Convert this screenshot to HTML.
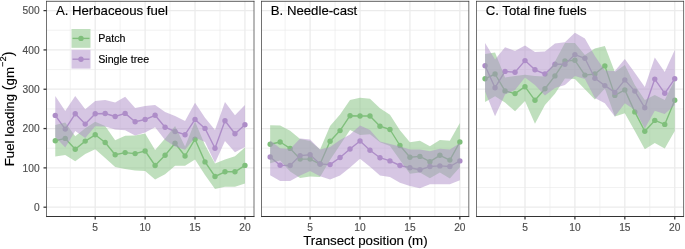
<!DOCTYPE html>
<html><head><meta charset="utf-8"><style>
html,body{margin:0;padding:0;background:#fff;}
body{width:685px;height:249px;overflow:hidden;}
svg{display:block;font-family:"Liberation Sans",sans-serif;filter:blur(0.35px);}
text{stroke-width:0.15px;}
</style></head><body>
<svg width="685" height="249" viewBox="0 0 685 249">
<rect width="685" height="249" fill="#fff"/>
<g>
<line x1="46.5" x2="254" y1="187.54" y2="187.54" stroke="#EBEBEB" stroke-width="0.63"/>
<line x1="46.5" x2="254" y1="148.22" y2="148.22" stroke="#EBEBEB" stroke-width="0.63"/>
<line x1="46.5" x2="254" y1="108.9" y2="108.9" stroke="#EBEBEB" stroke-width="0.63"/>
<line x1="46.5" x2="254" y1="69.58" y2="69.58" stroke="#EBEBEB" stroke-width="0.63"/>
<line x1="46.5" x2="254" y1="30.26" y2="30.26" stroke="#EBEBEB" stroke-width="0.63"/>
<line x1="70.24" x2="70.24" y1="1.3" y2="216.5" stroke="#EBEBEB" stroke-width="0.63"/>
<line x1="120.16" x2="120.16" y1="1.3" y2="216.5" stroke="#EBEBEB" stroke-width="0.63"/>
<line x1="170.07" x2="170.07" y1="1.3" y2="216.5" stroke="#EBEBEB" stroke-width="0.63"/>
<line x1="219.99" x2="219.99" y1="1.3" y2="216.5" stroke="#EBEBEB" stroke-width="0.63"/>
<line x1="46.5" x2="254" y1="207.2" y2="207.2" stroke="#EBEBEB" stroke-width="1.26"/>
<line x1="46.5" x2="254" y1="167.88" y2="167.88" stroke="#EBEBEB" stroke-width="1.26"/>
<line x1="46.5" x2="254" y1="128.56" y2="128.56" stroke="#EBEBEB" stroke-width="1.26"/>
<line x1="46.5" x2="254" y1="89.24" y2="89.24" stroke="#EBEBEB" stroke-width="1.26"/>
<line x1="46.5" x2="254" y1="49.92" y2="49.92" stroke="#EBEBEB" stroke-width="1.26"/>
<line x1="46.5" x2="254" y1="10.6" y2="10.6" stroke="#EBEBEB" stroke-width="1.26"/>
<line x1="95.2" x2="95.2" y1="1.3" y2="216.5" stroke="#EBEBEB" stroke-width="1.26"/>
<line x1="145.12" x2="145.12" y1="1.3" y2="216.5" stroke="#EBEBEB" stroke-width="1.26"/>
<line x1="195.03" x2="195.03" y1="1.3" y2="216.5" stroke="#EBEBEB" stroke-width="1.26"/>
<line x1="244.94" x2="244.94" y1="1.3" y2="216.5" stroke="#EBEBEB" stroke-width="1.26"/>
<path d="M55.27,140.8 L65.25,138.4 L75.23,149.2 L85.22,141.1 L95.2,134.8 L105.18,142.5 L115.17,154.8 L125.15,152.6 L135.13,153.6 L145.12,151 L155.1,165.5 L165.08,155.2 L175.06,143.3 L185.05,156 L195.03,139.2 L205.01,161.9 L215,176.5 L224.98,171.8 L234.96,171.8 L244.94,165.4" fill="none" stroke="#7FBF7B" stroke-width="1.4" stroke-linejoin="round"/><circle cx="55.27" cy="140.8" r="2.7" fill="#7FBF7B"/><circle cx="65.25" cy="138.4" r="2.7" fill="#7FBF7B"/><circle cx="75.23" cy="149.2" r="2.7" fill="#7FBF7B"/><circle cx="85.22" cy="141.1" r="2.7" fill="#7FBF7B"/><circle cx="95.2" cy="134.8" r="2.7" fill="#7FBF7B"/><circle cx="105.18" cy="142.5" r="2.7" fill="#7FBF7B"/><circle cx="115.17" cy="154.8" r="2.7" fill="#7FBF7B"/><circle cx="125.15" cy="152.6" r="2.7" fill="#7FBF7B"/><circle cx="135.13" cy="153.6" r="2.7" fill="#7FBF7B"/><circle cx="145.12" cy="151" r="2.7" fill="#7FBF7B"/><circle cx="155.1" cy="165.5" r="2.7" fill="#7FBF7B"/><circle cx="165.08" cy="155.2" r="2.7" fill="#7FBF7B"/><circle cx="175.06" cy="143.3" r="2.7" fill="#7FBF7B"/><circle cx="185.05" cy="156" r="2.7" fill="#7FBF7B"/><circle cx="195.03" cy="139.2" r="2.7" fill="#7FBF7B"/><circle cx="205.01" cy="161.9" r="2.7" fill="#7FBF7B"/><circle cx="215" cy="176.5" r="2.7" fill="#7FBF7B"/><circle cx="224.98" cy="171.8" r="2.7" fill="#7FBF7B"/><circle cx="234.96" cy="171.8" r="2.7" fill="#7FBF7B"/><circle cx="244.94" cy="165.4" r="2.7" fill="#7FBF7B"/>
<path d="M55.27,115.4 L65.25,129.1 L75.23,113.8 L85.22,124.1 L95.2,113.8 L105.18,113.5 L115.17,116.5 L125.15,113.4 L135.13,121.8 L145.12,119.5 L155.1,115.3 L165.08,127.2 L175.06,131.5 L185.05,134.7 L195.03,119.4 L205.01,128.4 L215,148.3 L224.98,120.8 L234.96,133.7 L244.94,124.7" fill="none" stroke="#AE8DC8" stroke-width="1.4" stroke-linejoin="round"/><circle cx="55.27" cy="115.4" r="2.7" fill="#AE8DC8"/><circle cx="65.25" cy="129.1" r="2.7" fill="#AE8DC8"/><circle cx="75.23" cy="113.8" r="2.7" fill="#AE8DC8"/><circle cx="85.22" cy="124.1" r="2.7" fill="#AE8DC8"/><circle cx="95.2" cy="113.8" r="2.7" fill="#AE8DC8"/><circle cx="105.18" cy="113.5" r="2.7" fill="#AE8DC8"/><circle cx="115.17" cy="116.5" r="2.7" fill="#AE8DC8"/><circle cx="125.15" cy="113.4" r="2.7" fill="#AE8DC8"/><circle cx="135.13" cy="121.8" r="2.7" fill="#AE8DC8"/><circle cx="145.12" cy="119.5" r="2.7" fill="#AE8DC8"/><circle cx="155.1" cy="115.3" r="2.7" fill="#AE8DC8"/><circle cx="165.08" cy="127.2" r="2.7" fill="#AE8DC8"/><circle cx="175.06" cy="131.5" r="2.7" fill="#AE8DC8"/><circle cx="185.05" cy="134.7" r="2.7" fill="#AE8DC8"/><circle cx="195.03" cy="119.4" r="2.7" fill="#AE8DC8"/><circle cx="205.01" cy="128.4" r="2.7" fill="#AE8DC8"/><circle cx="215" cy="148.3" r="2.7" fill="#AE8DC8"/><circle cx="224.98" cy="120.8" r="2.7" fill="#AE8DC8"/><circle cx="234.96" cy="133.7" r="2.7" fill="#AE8DC8"/><circle cx="244.94" cy="124.7" r="2.7" fill="#AE8DC8"/>
<path d="M55.27,125 L65.25,122.4 L75.23,136.2 L85.22,128.2 L95.2,121.7 L105.18,126 L115.17,140.3 L125.15,135.8 L135.13,135.4 L145.12,133.4 L155.1,150 L165.08,138.5 L175.06,126 L185.05,146.5 L195.03,121.6 L205.01,145 L215,163.5 L224.98,159.5 L234.96,156.2 L244.94,147.5 L244.94,183.5 L234.96,186.7 L224.98,186.7 L215,189.1 L205.01,175 L195.03,159.5 L185.05,165.8 L175.06,165.8 L165.08,174.2 L155.1,179.5 L145.12,171 L135.13,170.6 L125.15,169 L115.17,166.9 L105.18,158 L95.2,149.2 L85.22,154.1 L75.23,161.2 L65.25,154.9 L55.27,156.5 Z" fill="#7FBF7B" fill-opacity="0.5"/>
<path d="M55.27,96.1 L65.25,110.9 L75.23,96.1 L85.22,109.3 L95.2,100.9 L105.18,100 L115.17,102.5 L125.15,96.7 L135.13,108 L145.12,105.9 L155.1,104.9 L165.08,112.1 L175.06,116.1 L185.05,121 L195.03,102.8 L205.01,117.7 L215,130 L224.98,102.1 L234.96,115.3 L244.94,104.9 L244.94,147 L234.96,152.3 L224.98,141 L215,163 L205.01,142 L195.03,137.6 L185.05,149.7 L175.06,146.4 L165.08,140 L155.1,127.2 L145.12,132.6 L135.13,135.4 L125.15,130.2 L115.17,129.4 L105.18,126.6 L95.2,126.2 L85.22,137.9 L75.23,131 L65.25,147.5 L55.27,137 Z" fill="#AE8DC8" fill-opacity="0.5"/>
<line x1="46.15" x2="254.35" y1="1.3" y2="1.3" stroke="#333333" stroke-width="0.8"/>
<line x1="46.15" x2="254.35" y1="216.5" y2="216.5" stroke="#333333" stroke-width="1.1"/>
<line x1="46.5" x2="46.5" y1="0.9" y2="217.05" stroke="#333333" stroke-width="0.7"/>
<line x1="254" x2="254" y1="0.9" y2="217.05" stroke="#333333" stroke-width="0.7"/>
<line x1="95.2" x2="95.2" y1="216.5" y2="219.5" stroke="#333333" stroke-width="1.26"/>
<text x="95.2" y="230.6" text-anchor="middle" font-size="10.2" fill="#4D4D4D" stroke="#4D4D4D">5</text>
<line x1="145.12" x2="145.12" y1="216.5" y2="219.5" stroke="#333333" stroke-width="1.26"/>
<text x="145.12" y="230.6" text-anchor="middle" font-size="10.2" fill="#4D4D4D" stroke="#4D4D4D">10</text>
<line x1="195.03" x2="195.03" y1="216.5" y2="219.5" stroke="#333333" stroke-width="1.26"/>
<text x="195.03" y="230.6" text-anchor="middle" font-size="10.2" fill="#4D4D4D" stroke="#4D4D4D">15</text>
<line x1="244.94" x2="244.94" y1="216.5" y2="219.5" stroke="#333333" stroke-width="1.26"/>
<text x="244.94" y="230.6" text-anchor="middle" font-size="10.2" fill="#4D4D4D" stroke="#4D4D4D">20</text>
<text x="55.9" y="15.1" font-size="13.2" fill="#000" stroke="#000">A. Herbaceous fuel</text>
</g>
<g>
<line x1="261.5" x2="468.8" y1="187.54" y2="187.54" stroke="#EBEBEB" stroke-width="0.63"/>
<line x1="261.5" x2="468.8" y1="148.22" y2="148.22" stroke="#EBEBEB" stroke-width="0.63"/>
<line x1="261.5" x2="468.8" y1="108.9" y2="108.9" stroke="#EBEBEB" stroke-width="0.63"/>
<line x1="261.5" x2="468.8" y1="69.58" y2="69.58" stroke="#EBEBEB" stroke-width="0.63"/>
<line x1="261.5" x2="468.8" y1="30.26" y2="30.26" stroke="#EBEBEB" stroke-width="0.63"/>
<line x1="285.14" x2="285.14" y1="1.3" y2="216.5" stroke="#EBEBEB" stroke-width="0.63"/>
<line x1="335.06" x2="335.06" y1="1.3" y2="216.5" stroke="#EBEBEB" stroke-width="0.63"/>
<line x1="384.97" x2="384.97" y1="1.3" y2="216.5" stroke="#EBEBEB" stroke-width="0.63"/>
<line x1="434.89" x2="434.89" y1="1.3" y2="216.5" stroke="#EBEBEB" stroke-width="0.63"/>
<line x1="261.5" x2="468.8" y1="207.2" y2="207.2" stroke="#EBEBEB" stroke-width="1.26"/>
<line x1="261.5" x2="468.8" y1="167.88" y2="167.88" stroke="#EBEBEB" stroke-width="1.26"/>
<line x1="261.5" x2="468.8" y1="128.56" y2="128.56" stroke="#EBEBEB" stroke-width="1.26"/>
<line x1="261.5" x2="468.8" y1="89.24" y2="89.24" stroke="#EBEBEB" stroke-width="1.26"/>
<line x1="261.5" x2="468.8" y1="49.92" y2="49.92" stroke="#EBEBEB" stroke-width="1.26"/>
<line x1="261.5" x2="468.8" y1="10.6" y2="10.6" stroke="#EBEBEB" stroke-width="1.26"/>
<line x1="310.1" x2="310.1" y1="1.3" y2="216.5" stroke="#EBEBEB" stroke-width="1.26"/>
<line x1="360.02" x2="360.02" y1="1.3" y2="216.5" stroke="#EBEBEB" stroke-width="1.26"/>
<line x1="409.93" x2="409.93" y1="1.3" y2="216.5" stroke="#EBEBEB" stroke-width="1.26"/>
<line x1="459.85" x2="459.85" y1="1.3" y2="216.5" stroke="#EBEBEB" stroke-width="1.26"/>
<path d="M270.17,144.3 L280.15,142 L290.13,148.4 L300.12,159.1 L310.1,159.1 L320.08,164 L330.07,141.3 L340.05,130.6 L350.03,115.7 L360.02,116 L370,116 L379.98,126.2 L389.96,129.5 L399.95,145.5 L409.93,157.3 L419.91,156.4 L429.9,161.7 L439.88,155.3 L449.86,160.1 L459.85,142" fill="none" stroke="#7FBF7B" stroke-width="1.4" stroke-linejoin="round"/><circle cx="270.17" cy="144.3" r="2.7" fill="#7FBF7B"/><circle cx="280.15" cy="142" r="2.7" fill="#7FBF7B"/><circle cx="290.13" cy="148.4" r="2.7" fill="#7FBF7B"/><circle cx="300.12" cy="159.1" r="2.7" fill="#7FBF7B"/><circle cx="310.1" cy="159.1" r="2.7" fill="#7FBF7B"/><circle cx="320.08" cy="164" r="2.7" fill="#7FBF7B"/><circle cx="330.07" cy="141.3" r="2.7" fill="#7FBF7B"/><circle cx="340.05" cy="130.6" r="2.7" fill="#7FBF7B"/><circle cx="350.03" cy="115.7" r="2.7" fill="#7FBF7B"/><circle cx="360.02" cy="116" r="2.7" fill="#7FBF7B"/><circle cx="370" cy="116" r="2.7" fill="#7FBF7B"/><circle cx="379.98" cy="126.2" r="2.7" fill="#7FBF7B"/><circle cx="389.96" cy="129.5" r="2.7" fill="#7FBF7B"/><circle cx="399.95" cy="145.5" r="2.7" fill="#7FBF7B"/><circle cx="409.93" cy="157.3" r="2.7" fill="#7FBF7B"/><circle cx="419.91" cy="156.4" r="2.7" fill="#7FBF7B"/><circle cx="429.9" cy="161.7" r="2.7" fill="#7FBF7B"/><circle cx="439.88" cy="155.3" r="2.7" fill="#7FBF7B"/><circle cx="449.86" cy="160.1" r="2.7" fill="#7FBF7B"/><circle cx="459.85" cy="142" r="2.7" fill="#7FBF7B"/>
<path d="M270.17,157 L280.15,165.3 L290.13,165.5 L300.12,155.6 L310.1,154.8 L320.08,164 L330.07,164.6 L340.05,157.5 L350.03,149 L360.02,141 L370,150.2 L379.98,157.7 L389.96,160.9 L399.95,165.5 L409.93,167.8 L419.91,169.8 L429.9,166.5 L439.88,165.9 L449.86,166.5 L459.85,160.9" fill="none" stroke="#AE8DC8" stroke-width="1.4" stroke-linejoin="round"/><circle cx="270.17" cy="157" r="2.7" fill="#AE8DC8"/><circle cx="280.15" cy="165.3" r="2.7" fill="#AE8DC8"/><circle cx="290.13" cy="165.5" r="2.7" fill="#AE8DC8"/><circle cx="300.12" cy="155.6" r="2.7" fill="#AE8DC8"/><circle cx="310.1" cy="154.8" r="2.7" fill="#AE8DC8"/><circle cx="320.08" cy="164" r="2.7" fill="#AE8DC8"/><circle cx="330.07" cy="164.6" r="2.7" fill="#AE8DC8"/><circle cx="340.05" cy="157.5" r="2.7" fill="#AE8DC8"/><circle cx="350.03" cy="149" r="2.7" fill="#AE8DC8"/><circle cx="360.02" cy="141" r="2.7" fill="#AE8DC8"/><circle cx="370" cy="150.2" r="2.7" fill="#AE8DC8"/><circle cx="379.98" cy="157.7" r="2.7" fill="#AE8DC8"/><circle cx="389.96" cy="160.9" r="2.7" fill="#AE8DC8"/><circle cx="399.95" cy="165.5" r="2.7" fill="#AE8DC8"/><circle cx="409.93" cy="167.8" r="2.7" fill="#AE8DC8"/><circle cx="419.91" cy="169.8" r="2.7" fill="#AE8DC8"/><circle cx="429.9" cy="166.5" r="2.7" fill="#AE8DC8"/><circle cx="439.88" cy="165.9" r="2.7" fill="#AE8DC8"/><circle cx="449.86" cy="166.5" r="2.7" fill="#AE8DC8"/><circle cx="459.85" cy="160.9" r="2.7" fill="#AE8DC8"/>
<path d="M270.17,125.3 L280.15,125.6 L290.13,130.8 L300.12,138.9 L310.1,141 L320.08,149.5 L330.07,126.1 L340.05,114.5 L350.03,100.1 L360.02,97.7 L370,98.8 L379.98,108.3 L389.96,114.8 L399.95,130.3 L409.93,142.3 L419.91,140.7 L429.9,146.3 L439.88,139.9 L449.86,140.7 L459.85,123 L459.85,167.3 L449.86,178.5 L439.88,172.4 L429.9,178.2 L419.91,172.6 L409.93,173.8 L399.95,160 L389.96,146 L379.98,142.3 L370,134.3 L360.02,135.1 L350.03,130 L340.05,145 L330.07,160 L320.08,177.1 L310.1,176.4 L300.12,177.9 L290.13,171.5 L280.15,160.5 L270.17,163.2 Z" fill="#7FBF7B" fill-opacity="0.5"/>
<path d="M270.17,140.4 L280.15,148.2 L290.13,149 L300.12,138.4 L310.1,139.4 L320.08,149.5 L330.07,147 L340.05,140 L350.03,134.5 L360.02,125.4 L370,130 L379.98,141.6 L389.96,144 L399.95,146.5 L409.93,149.6 L419.91,149.6 L429.9,151.2 L439.88,148.8 L449.86,149.6 L459.85,143.2 L459.85,180.2 L449.86,184.2 L439.88,184.2 L429.9,184.2 L419.91,188.2 L409.93,186 L399.95,182.7 L389.96,177 L379.98,175.4 L370,166.7 L360.02,158.7 L350.03,167.5 L340.05,175.5 L330.07,179.5 L320.08,176.3 L310.1,171 L300.12,175.5 L290.13,181 L280.15,181 L270.17,175.2 Z" fill="#AE8DC8" fill-opacity="0.5"/>
<line x1="261.15" x2="469.15" y1="1.3" y2="1.3" stroke="#333333" stroke-width="0.8"/>
<line x1="261.15" x2="469.15" y1="216.5" y2="216.5" stroke="#333333" stroke-width="1.1"/>
<line x1="261.5" x2="261.5" y1="0.9" y2="217.05" stroke="#333333" stroke-width="0.7"/>
<line x1="468.8" x2="468.8" y1="0.9" y2="217.05" stroke="#333333" stroke-width="0.7"/>
<line x1="310.1" x2="310.1" y1="216.5" y2="219.5" stroke="#333333" stroke-width="1.26"/>
<text x="310.1" y="230.6" text-anchor="middle" font-size="10.2" fill="#4D4D4D" stroke="#4D4D4D">5</text>
<line x1="360.02" x2="360.02" y1="216.5" y2="219.5" stroke="#333333" stroke-width="1.26"/>
<text x="360.02" y="230.6" text-anchor="middle" font-size="10.2" fill="#4D4D4D" stroke="#4D4D4D">10</text>
<line x1="409.93" x2="409.93" y1="216.5" y2="219.5" stroke="#333333" stroke-width="1.26"/>
<text x="409.93" y="230.6" text-anchor="middle" font-size="10.2" fill="#4D4D4D" stroke="#4D4D4D">15</text>
<line x1="459.85" x2="459.85" y1="216.5" y2="219.5" stroke="#333333" stroke-width="1.26"/>
<text x="459.85" y="230.6" text-anchor="middle" font-size="10.2" fill="#4D4D4D" stroke="#4D4D4D">20</text>
<text x="270.8" y="15.1" font-size="13.2" fill="#000" stroke="#000">B. Needle-cast</text>
</g>
<g>
<line x1="476.5" x2="683.6" y1="187.54" y2="187.54" stroke="#EBEBEB" stroke-width="0.63"/>
<line x1="476.5" x2="683.6" y1="148.22" y2="148.22" stroke="#EBEBEB" stroke-width="0.63"/>
<line x1="476.5" x2="683.6" y1="108.9" y2="108.9" stroke="#EBEBEB" stroke-width="0.63"/>
<line x1="476.5" x2="683.6" y1="69.58" y2="69.58" stroke="#EBEBEB" stroke-width="0.63"/>
<line x1="476.5" x2="683.6" y1="30.26" y2="30.26" stroke="#EBEBEB" stroke-width="0.63"/>
<line x1="500.04" x2="500.04" y1="1.3" y2="216.5" stroke="#EBEBEB" stroke-width="0.63"/>
<line x1="549.96" x2="549.96" y1="1.3" y2="216.5" stroke="#EBEBEB" stroke-width="0.63"/>
<line x1="599.87" x2="599.87" y1="1.3" y2="216.5" stroke="#EBEBEB" stroke-width="0.63"/>
<line x1="649.79" x2="649.79" y1="1.3" y2="216.5" stroke="#EBEBEB" stroke-width="0.63"/>
<line x1="476.5" x2="683.6" y1="207.2" y2="207.2" stroke="#EBEBEB" stroke-width="1.26"/>
<line x1="476.5" x2="683.6" y1="167.88" y2="167.88" stroke="#EBEBEB" stroke-width="1.26"/>
<line x1="476.5" x2="683.6" y1="128.56" y2="128.56" stroke="#EBEBEB" stroke-width="1.26"/>
<line x1="476.5" x2="683.6" y1="89.24" y2="89.24" stroke="#EBEBEB" stroke-width="1.26"/>
<line x1="476.5" x2="683.6" y1="49.92" y2="49.92" stroke="#EBEBEB" stroke-width="1.26"/>
<line x1="476.5" x2="683.6" y1="10.6" y2="10.6" stroke="#EBEBEB" stroke-width="1.26"/>
<line x1="525" x2="525" y1="1.3" y2="216.5" stroke="#EBEBEB" stroke-width="1.26"/>
<line x1="574.91" x2="574.91" y1="1.3" y2="216.5" stroke="#EBEBEB" stroke-width="1.26"/>
<line x1="624.83" x2="624.83" y1="1.3" y2="216.5" stroke="#EBEBEB" stroke-width="1.26"/>
<line x1="674.75" x2="674.75" y1="1.3" y2="216.5" stroke="#EBEBEB" stroke-width="1.26"/>
<path d="M485.07,78.8 L495.05,74 L505.03,90.9 L515.02,93.6 L525,86.7 L534.98,100.3 L544.97,88.7 L554.95,75.9 L564.93,61 L574.91,60.3 L584.9,75.1 L594.88,74 L604.86,65.9 L614.85,95.4 L624.83,89.9 L634.81,111.9 L644.8,131.2 L654.78,120.4 L664.76,124.4 L674.75,100.3" fill="none" stroke="#7FBF7B" stroke-width="1.4" stroke-linejoin="round"/><circle cx="485.07" cy="78.8" r="2.7" fill="#7FBF7B"/><circle cx="495.05" cy="74" r="2.7" fill="#7FBF7B"/><circle cx="505.03" cy="90.9" r="2.7" fill="#7FBF7B"/><circle cx="515.02" cy="93.6" r="2.7" fill="#7FBF7B"/><circle cx="525" cy="86.7" r="2.7" fill="#7FBF7B"/><circle cx="534.98" cy="100.3" r="2.7" fill="#7FBF7B"/><circle cx="544.97" cy="88.7" r="2.7" fill="#7FBF7B"/><circle cx="554.95" cy="75.9" r="2.7" fill="#7FBF7B"/><circle cx="564.93" cy="61" r="2.7" fill="#7FBF7B"/><circle cx="574.91" cy="60.3" r="2.7" fill="#7FBF7B"/><circle cx="584.9" cy="75.1" r="2.7" fill="#7FBF7B"/><circle cx="594.88" cy="74" r="2.7" fill="#7FBF7B"/><circle cx="604.86" cy="65.9" r="2.7" fill="#7FBF7B"/><circle cx="614.85" cy="95.4" r="2.7" fill="#7FBF7B"/><circle cx="624.83" cy="89.9" r="2.7" fill="#7FBF7B"/><circle cx="634.81" cy="111.9" r="2.7" fill="#7FBF7B"/><circle cx="644.8" cy="131.2" r="2.7" fill="#7FBF7B"/><circle cx="654.78" cy="120.4" r="2.7" fill="#7FBF7B"/><circle cx="664.76" cy="124.4" r="2.7" fill="#7FBF7B"/><circle cx="674.75" cy="100.3" r="2.7" fill="#7FBF7B"/>
<path d="M485.07,65.8 L495.05,87.7 L505.03,71.4 L515.02,72.3 L525,60.6 L534.98,69.8 L544.97,74 L554.95,64.2 L564.93,64.3 L574.91,54.6 L584.9,58.3 L594.88,78.3 L604.86,85.6 L614.85,92.4 L624.83,79.9 L634.81,91.1 L644.8,107.8 L654.78,79.1 L664.76,93.3 L674.75,78.8" fill="none" stroke="#AE8DC8" stroke-width="1.4" stroke-linejoin="round"/><circle cx="485.07" cy="65.8" r="2.7" fill="#AE8DC8"/><circle cx="495.05" cy="87.7" r="2.7" fill="#AE8DC8"/><circle cx="505.03" cy="71.4" r="2.7" fill="#AE8DC8"/><circle cx="515.02" cy="72.3" r="2.7" fill="#AE8DC8"/><circle cx="525" cy="60.6" r="2.7" fill="#AE8DC8"/><circle cx="534.98" cy="69.8" r="2.7" fill="#AE8DC8"/><circle cx="544.97" cy="74" r="2.7" fill="#AE8DC8"/><circle cx="554.95" cy="64.2" r="2.7" fill="#AE8DC8"/><circle cx="564.93" cy="64.3" r="2.7" fill="#AE8DC8"/><circle cx="574.91" cy="54.6" r="2.7" fill="#AE8DC8"/><circle cx="584.9" cy="58.3" r="2.7" fill="#AE8DC8"/><circle cx="594.88" cy="78.3" r="2.7" fill="#AE8DC8"/><circle cx="604.86" cy="85.6" r="2.7" fill="#AE8DC8"/><circle cx="614.85" cy="92.4" r="2.7" fill="#AE8DC8"/><circle cx="624.83" cy="79.9" r="2.7" fill="#AE8DC8"/><circle cx="634.81" cy="91.1" r="2.7" fill="#AE8DC8"/><circle cx="644.8" cy="107.8" r="2.7" fill="#AE8DC8"/><circle cx="654.78" cy="79.1" r="2.7" fill="#AE8DC8"/><circle cx="664.76" cy="93.3" r="2.7" fill="#AE8DC8"/><circle cx="674.75" cy="78.8" r="2.7" fill="#AE8DC8"/>
<path d="M485.07,53.9 L495.05,52.6 L505.03,77.5 L515.02,75.9 L525,74.8 L534.98,76 L544.97,76.5 L554.95,61.5 L564.93,43 L574.91,43 L584.9,55 L594.88,48.5 L604.86,45.9 L614.85,72 L624.83,65 L634.81,85 L644.8,100 L654.78,95 L664.76,100 L674.75,80 L674.75,130.9 L664.76,148.5 L654.78,142.9 L644.8,149.3 L634.81,131 L624.83,113.2 L614.85,116.4 L604.86,88.4 L594.88,99.5 L584.9,89.2 L574.91,79 L564.93,78.5 L554.95,93.8 L544.97,105 L534.98,123.7 L525,101 L515.02,111.3 L505.03,102.4 L495.05,96.2 L485.07,101.9 Z" fill="#7FBF7B" fill-opacity="0.5"/>
<path d="M485.07,43 L495.05,59.5 L505.03,47.2 L515.02,51 L525,45.6 L534.98,52 L544.97,51.5 L554.95,43.5 L564.93,42.3 L574.91,32.7 L584.9,38.5 L594.88,56 L604.86,70.5 L614.85,71.1 L624.83,59 L634.81,72.7 L644.8,87.1 L654.78,57.4 L664.76,71.9 L674.75,50 L674.75,105 L664.76,114 L654.78,110.8 L644.8,128.5 L634.81,110 L624.83,103.2 L614.85,116.4 L604.86,103.2 L594.88,98.1 L584.9,79 L574.91,76 L564.93,85 L554.95,88 L544.97,95.4 L534.98,85 L525,77.5 L515.02,90 L505.03,94.6 L495.05,116.2 L485.07,91.4 Z" fill="#AE8DC8" fill-opacity="0.5"/>
<line x1="476.15" x2="683.95" y1="1.3" y2="1.3" stroke="#333333" stroke-width="0.8"/>
<line x1="476.15" x2="683.95" y1="216.5" y2="216.5" stroke="#333333" stroke-width="1.1"/>
<line x1="476.5" x2="476.5" y1="0.9" y2="217.05" stroke="#333333" stroke-width="0.7"/>
<line x1="683.6" x2="683.6" y1="0.9" y2="217.05" stroke="#333333" stroke-width="0.7"/>
<line x1="525" x2="525" y1="216.5" y2="219.5" stroke="#333333" stroke-width="1.26"/>
<text x="525" y="230.6" text-anchor="middle" font-size="10.2" fill="#4D4D4D" stroke="#4D4D4D">5</text>
<line x1="574.91" x2="574.91" y1="216.5" y2="219.5" stroke="#333333" stroke-width="1.26"/>
<text x="574.91" y="230.6" text-anchor="middle" font-size="10.2" fill="#4D4D4D" stroke="#4D4D4D">10</text>
<line x1="624.83" x2="624.83" y1="216.5" y2="219.5" stroke="#333333" stroke-width="1.26"/>
<text x="624.83" y="230.6" text-anchor="middle" font-size="10.2" fill="#4D4D4D" stroke="#4D4D4D">15</text>
<line x1="674.75" x2="674.75" y1="216.5" y2="219.5" stroke="#333333" stroke-width="1.26"/>
<text x="674.75" y="230.6" text-anchor="middle" font-size="10.2" fill="#4D4D4D" stroke="#4D4D4D">20</text>
<text x="485.7" y="15.1" font-size="13.2" fill="#000" stroke="#000">C. Total fine fuels</text>
</g>
<line x1="43.5" x2="46.5" y1="207.2" y2="207.2" stroke="#333333" stroke-width="1.26"/>
<text x="39.6" y="210.9" text-anchor="end" font-size="10.2" fill="#4D4D4D" stroke="#4D4D4D">0</text>
<line x1="43.5" x2="46.5" y1="167.88" y2="167.88" stroke="#333333" stroke-width="1.26"/>
<text x="39.6" y="171.58" text-anchor="end" font-size="10.2" fill="#4D4D4D" stroke="#4D4D4D">100</text>
<line x1="43.5" x2="46.5" y1="128.56" y2="128.56" stroke="#333333" stroke-width="1.26"/>
<text x="39.6" y="132.26" text-anchor="end" font-size="10.2" fill="#4D4D4D" stroke="#4D4D4D">200</text>
<line x1="43.5" x2="46.5" y1="89.24" y2="89.24" stroke="#333333" stroke-width="1.26"/>
<text x="39.6" y="92.94" text-anchor="end" font-size="10.2" fill="#4D4D4D" stroke="#4D4D4D">300</text>
<line x1="43.5" x2="46.5" y1="49.92" y2="49.92" stroke="#333333" stroke-width="1.26"/>
<text x="39.6" y="53.62" text-anchor="end" font-size="10.2" fill="#4D4D4D" stroke="#4D4D4D">400</text>
<line x1="43.5" x2="46.5" y1="10.6" y2="10.6" stroke="#333333" stroke-width="1.26"/>
<text x="39.6" y="14.3" text-anchor="end" font-size="10.2" fill="#4D4D4D" stroke="#4D4D4D">500</text>
<rect x="71.5" y="29" width="19" height="18.8" fill="#fff"/>
<line x1="72.5" x2="89.5" y1="38.4" y2="38.4" stroke="#7FBF7B" stroke-width="1.4"/>
<circle cx="81" cy="38.4" r="2.7" fill="#7FBF7B"/>
<rect x="71.5" y="29" width="19" height="18.8" fill="#7FBF7B" fill-opacity="0.5"/>
<text x="98.2" y="42.15" font-size="10.65" fill="#000" stroke="#000">Patch</text>
<rect x="71.5" y="49.8" width="19" height="18.8" fill="#fff"/>
<line x1="72.5" x2="89.5" y1="59.2" y2="59.2" stroke="#AE8DC8" stroke-width="1.4"/>
<circle cx="81" cy="59.2" r="2.7" fill="#AE8DC8"/>
<rect x="71.5" y="49.8" width="19" height="18.8" fill="#AE8DC8" fill-opacity="0.5"/>
<text x="98.2" y="62.95" font-size="10.65" fill="#000" stroke="#000">Single tree</text>
<text x="365.4" y="245.3" text-anchor="middle" font-size="13.3" fill="#000" stroke="#000">Transect position (m)</text>
<text transform="translate(14.3,166.3) rotate(-90)" font-size="13.3" fill="#000" stroke="#000">Fuel loading <tspan font-size="14.3" dy="-1.1">(</tspan><tspan dy="1.1">gm</tspan><tspan dy="-7.9" font-size="9.3">&#8722;2</tspan><tspan dy="6.8" font-size="14.3">)</tspan></text>
</svg>
</body></html>
